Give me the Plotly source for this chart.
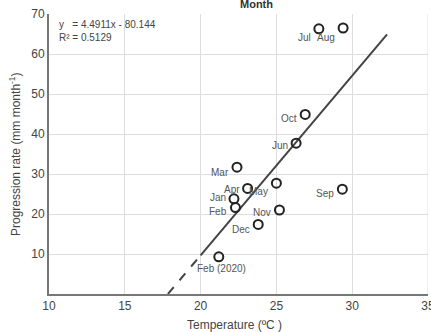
import plotly.graph_objects as go

months = ["Jul", "Aug", "Oct", "Jun", "Mar", "Apr", "May", "Sep", "Jan", "Feb", "Nov", "Dec", "Feb (2020)"]
temperature = [27.8, 29.4, 26.9, 26.3, 22.4, 23.1, 25.0, 29.35, 22.2, 22.3, 25.2, 23.8, 21.2]
progression = [66.3, 66.5, 44.9, 37.7, 31.7, 26.4, 27.7, 26.2, 23.8, 21.6, 21.0, 17.4, 9.3]

slope = 4.4911
intercept = -80.144
x_dashed = [17.845, 20.0]
x_solid = [20.0, 32.3]

# label offsets (px) relative to each point
label_shift = {
    "Jul": (-6, -9), "Aug": (-6, -9), "Oct": (-6, -4), "Jun": (-6, -2),
    "Mar": (-6, -5), "Apr": (-6, -1), "May": (-6, -8), "Sep": (-6, -4),
    "Jan": (-6, 1), "Feb": (-6, -4), "Nov": (-6, -2), "Dec": (-6, -5),
}

fig = go.Figure()
fig.add_trace(go.Scatter(
    x=x_dashed, y=[slope * v + intercept for v in x_dashed], mode="lines",
    line=dict(color="#444444", width=2, dash="dash"), showlegend=False, hoverinfo="skip"))
fig.add_trace(go.Scatter(
    x=x_solid, y=[slope * v + intercept for v in x_solid], mode="lines",
    line=dict(color="#444444", width=2), showlegend=False, hoverinfo="skip"))
fig.add_trace(go.Scatter(
    x=temperature, y=progression, mode="markers",
    marker=dict(symbol="circle-open", size=9, color="#222222", line=dict(width=2)),
    showlegend=False))

for m, t, p in zip(months, temperature, progression):
    if m == "Feb (2020)":
        fig.add_annotation(x=t, y=p, text=m, showarrow=False, xanchor="center", yanchor="middle",
                           xshift=3, yshift=-12, font=dict(size=10, color="#555555"))
    else:
        dx, dy = label_shift[m]
        fig.add_annotation(x=t, y=p, text=m, showarrow=False, xanchor="right", yanchor="middle",
                           xshift=dx, yshift=dy, font=dict(size=10, color="#555555"))

fig.add_annotation(xref="paper", yref="paper", x=0.02, y=0.99, xanchor="left", yanchor="top",
                   text="y   = 4.4911x - 80.144<br>R² = 0.5129", align="left", showarrow=False,
                   font=dict(size=10, color="#444444"))
fig.add_annotation(xref="paper", yref="paper", x=0.547, y=1.0, yshift=10, xanchor="center",
                   yanchor="middle", text="<b>Month</b>", showarrow=False,
                   font=dict(size=11, color="#333333"))
fig.add_annotation(xref="paper", yref="paper", x=0.5, y=0, yshift=-31, xshift=-4, xanchor="center",
                   yanchor="middle", text="Temperature (ºC )", showarrow=False,
                   font=dict(size=12, color="#444444"))
fig.add_annotation(xref="paper", yref="paper", x=0, y=0.5, xshift=-34, xanchor="center",
                   yanchor="middle", textangle=-90, text="Progression rate (mm month<sup>-1</sup>)",
                   showarrow=False, font=dict(size=12, color="#444444"))

fig.update_layout(
    width=431, height=332,
    margin=dict(l=49, r=3, t=14, b=38),
    paper_bgcolor="white", plot_bgcolor="white",
    font=dict(family="Liberation Sans, Arial, sans-serif", color="#444444"),
    xaxis=dict(range=[10, 35], tickvals=[10, 15, 20, 25, 30, 35], showgrid=True, automargin=False,
               ticklabeloverflow="allow",
               gridcolor="#dddddd", gridwidth=1, showline=True, linecolor="#777777", linewidth=2,
               zeroline=False, ticks="", tickfont=dict(size=12, color="#444444")),
    yaxis=dict(range=[0, 70], tickvals=[10, 20, 30, 40, 50, 60, 70], showgrid=True, automargin=False,
               gridcolor="#dddddd", gridwidth=1, showline=True, linecolor="#777777", linewidth=2,
               zeroline=False, ticks="", tickfont=dict(size=12, color="#444444")),
)
fig.add_shape(type="line", xref="x", yref="paper", x0=35, x1=35, y0=0, y1=1,
              line=dict(color="#dddddd", width=1))

fig.write_html("out.html", config={"displayModeBar": False},
               post_script="document.body.style.margin='0';document.body.style.overflow='hidden';")
